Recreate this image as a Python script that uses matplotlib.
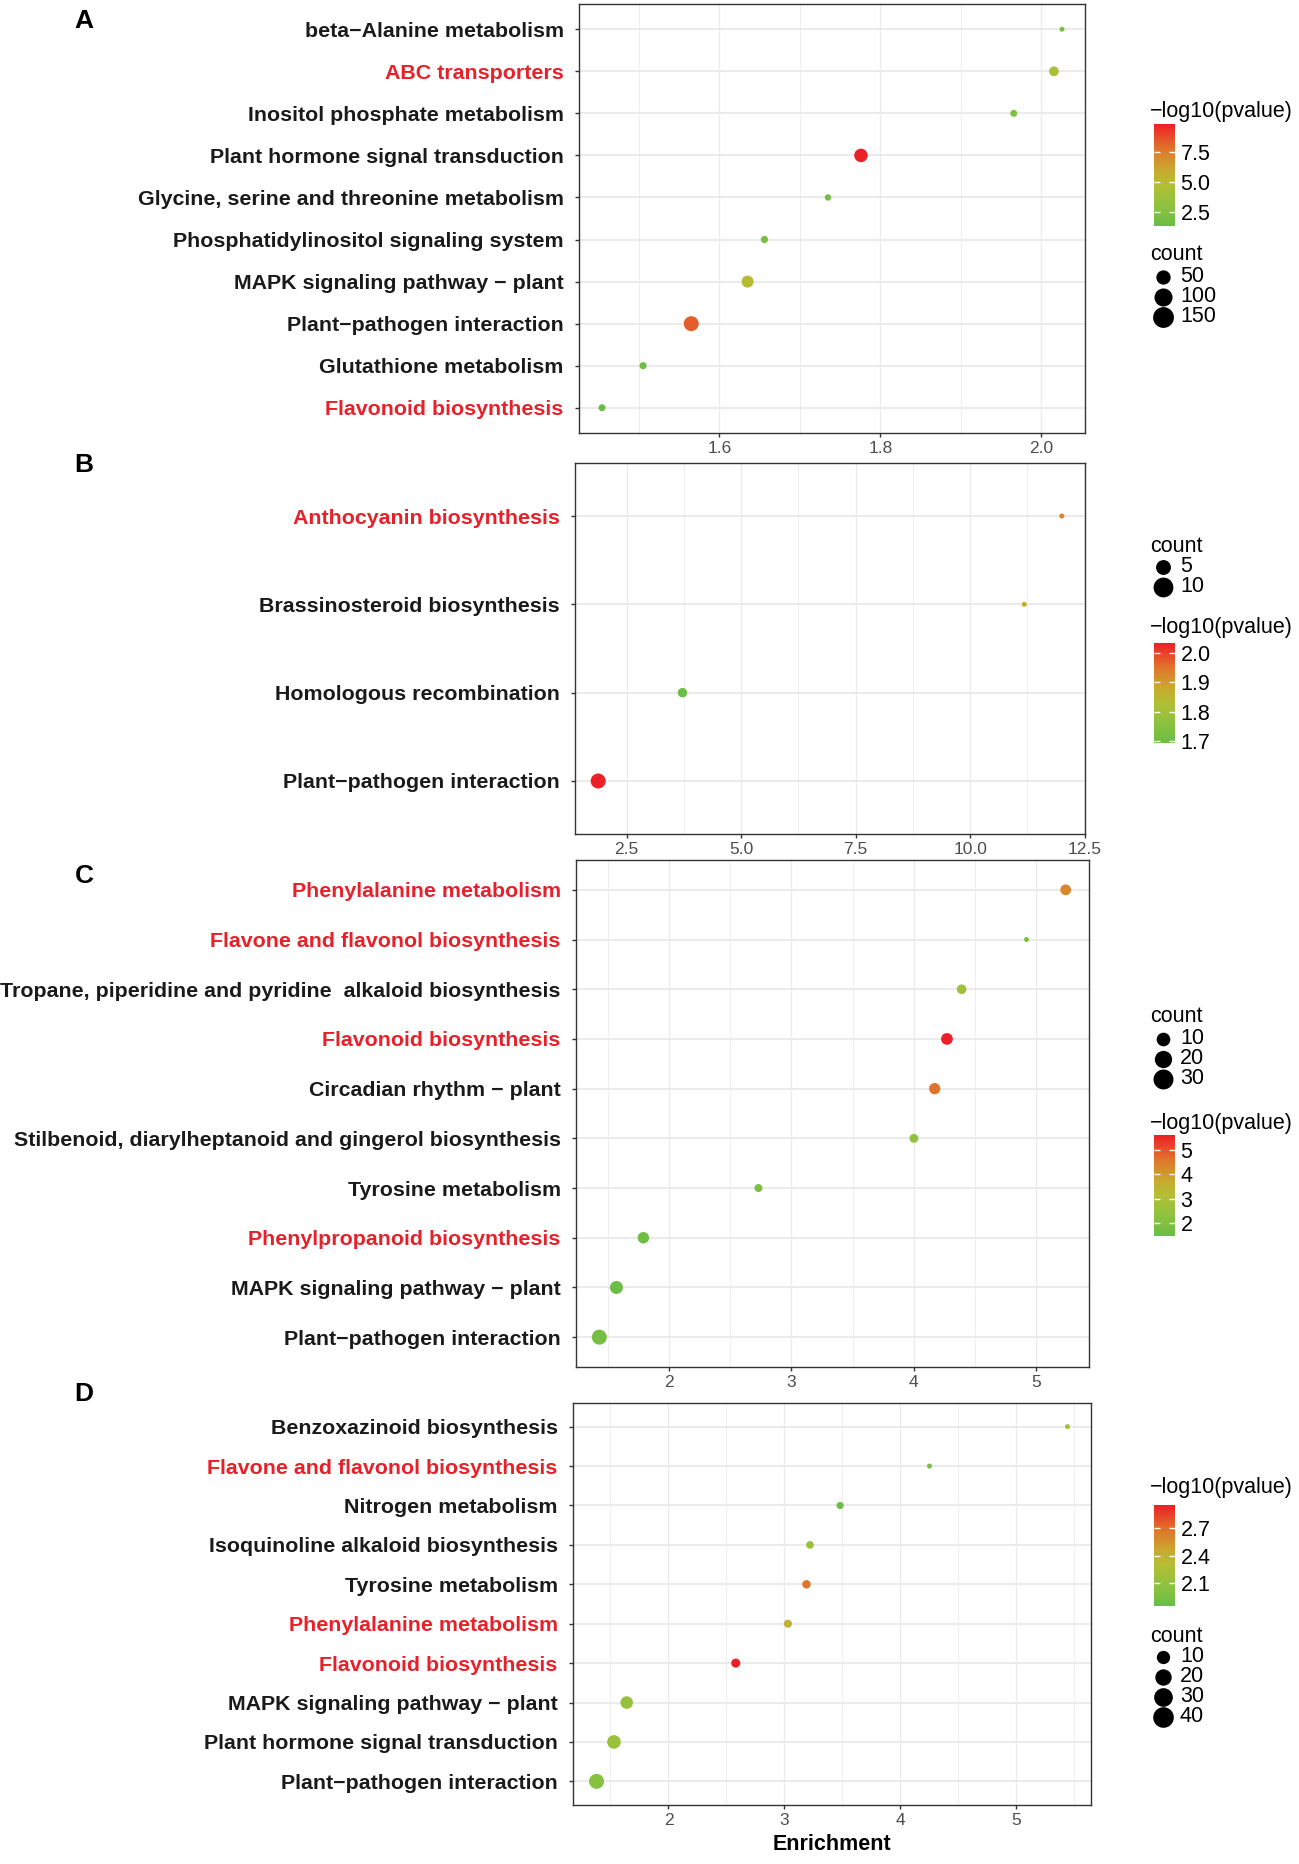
import numpy as np
import matplotlib
matplotlib.use('Agg')
import matplotlib.pyplot as plt
import matplotlib.cm as cm
from matplotlib.colors import LinearSegmentedColormap, Normalize
from matplotlib.lines import Line2D

plt.rcParams['font.family'] = ['Liberation Sans', 'DejaVu Sans']

W, H, DPI = 1299, 1864, 100

# ---- data ----
# panel A
a_terms = ['beta\u2212Alanine metabolism', 'ABC transporters', 'Inositol phosphate metabolism',
           'Plant hormone signal transduction', 'Glycine, serine and threonine metabolism',
           'Phosphatidylinositol signaling system', 'MAPK signaling pathway \u2212 plant',
           'Plant\u2212pathogen interaction', 'Glutathione metabolism', 'Flavonoid biosynthesis']
a_enrich = [2.026, 2.016, 1.966, 1.776, 1.735, 1.656, 1.635, 1.565, 1.505, 1.454]
a_logp = [2.0, 4.3, 2.4, 9.83, 1.8, 2.1, 5.0, 8.3, 1.6, 1.33]
a_count = [12, 45, 18, 118, 15, 19, 85, 160, 19, 18]
a_red = ['ABC transporters', 'Flavonoid biosynthesis']

# panel B
b_terms = ['Anthocyanin biosynthesis', 'Brassinosteroid biosynthesis',
           'Homologous recombination', 'Plant\u2212pathogen interaction']
b_enrich = [12.0, 11.18, 3.72, 1.88]
b_logp = [1.93, 1.88, 1.693, 2.034]
b_count = [2, 2, 4, 12]
b_red = ['Anthocyanin biosynthesis']

# panel C
c_terms = ['Phenylalanine metabolism', 'Flavone and flavonol biosynthesis',
           'Tropane, piperidine and pyridine  alkaloid biosynthesis', 'Flavonoid biosynthesis',
           'Circadian rhythm \u2212 plant', 'Stilbenoid, diarylheptanoid and gingerol biosynthesis',
           'Tyrosine metabolism', 'Phenylpropanoid biosynthesis',
           'MAPK signaling pathway \u2212 plant', 'Plant\u2212pathogen interaction']
c_enrich = [5.24, 4.92, 4.39, 4.27, 4.17, 4.0, 2.73, 1.79, 1.57, 1.43]
c_logp = [4.3, 1.9, 2.7, 5.62, 4.6, 2.4, 1.85, 1.6, 1.47, 1.75]
c_count = [14, 3, 10, 18, 16, 8, 6, 17, 24, 36]
c_red = ['Phenylalanine metabolism', 'Flavone and flavonol biosynthesis',
         'Flavonoid biosynthesis', 'Phenylpropanoid biosynthesis']

# panel D
d_terms = ['Benzoxazinoid biosynthesis', 'Flavone and flavonol biosynthesis', 'Nitrogen metabolism',
           'Isoquinoline alkaloid biosynthesis', 'Tyrosine metabolism', 'Phenylalanine metabolism',
           'Flavonoid biosynthesis', 'MAPK signaling pathway \u2212 plant',
           'Plant hormone signal transduction', 'Plant\u2212pathogen interaction']
d_enrich = [5.44, 4.25, 3.48, 3.22, 3.19, 3.03, 2.58, 1.64, 1.53, 1.38]
d_logp = [2.2, 1.95, 1.85, 2.15, 2.68, 2.38, 2.95, 2.12, 2.15, 2.03]
d_count = [2, 2, 4, 5, 7, 6, 9, 26, 33, 44]
d_red = ['Flavone and flavonol biosynthesis', 'Phenylalanine metabolism', 'Flavonoid biosynthesis']

# green -> red gradient
cmap = LinearSegmentedColormap.from_list('gr', [
    (0.0, '#6ABD45'), (0.2, '#8DC23F'), (0.4, '#B3BF35'),
    (0.55, '#C9A92F'), (0.75, '#E0762B'), (1.0, '#EC2027')])

fig = plt.figure(figsize=(W / DPI, H / DPI), dpi=DPI)


def fx(x):
    return x / W


def fy(y):
    return 1 - y / H


def dot_px(v, lo, hi, dmin=5.0, dmax=15.0):
    v = np.asarray(v, float)
    return dmin + (dmax - dmin) * np.sqrt((v - lo) / (hi - lo))


def draw_panel(box, letter, letter_y, terms, enrich, logp, count, red, xticks, xlabels, minor):
    x0, x1, y0, y1 = box
    ax = fig.add_axes([fx(x0), fy(y1), (x1 - x0) / W, (y1 - y0) / H])
    n = len(terms)
    ypos = np.arange(n)[::-1]
    norm = Normalize(min(logp), max(logp))
    lo, hi = min(count), max(count)
    s = (dot_px(count, lo, hi) * 72 / DPI) ** 2
    ax.scatter(enrich, ypos, s=s, c=logp, cmap=cmap, norm=norm, linewidths=0, zorder=3)
    ax.set_ylim(-0.6, n - 0.4)
    ax.margins(x=0.05)
    ax.set_yticks(ypos)
    ax.set_yticklabels(terms)
    for lab, t in zip(ax.get_yticklabels(), terms):
        lab.set_color('#E8202A' if t in red else '#1A1A1A')
        lab.set_fontweight('bold')
        lab.set_fontsize(15.4)
    ax.set_xticks(xticks)
    ax.set_xticklabels(xlabels)
    ax.set_xticks(minor, minor=True)
    ax.tick_params(which='major', length=3, width=1, color='#333333')
    ax.tick_params(axis='y', pad=8)
    ax.tick_params(axis='x', labelsize=12.5, labelcolor='#4D4D4D', pad=3)
    ax.tick_params(which='minor', length=0)
    ax.grid(axis='y', which='major', color='#EBEBEB', lw=1.5)
    ax.grid(axis='x', which='major', color='#EBEBEB', lw=0.9)
    ax.grid(axis='x', which='minor', color='#EBEBEB', lw=0.6)
    ax.set_axisbelow(True)
    for sp in ax.spines.values():
        sp.set_color('#333333')
        sp.set_linewidth(1.0)
    fig.text(fx(84), fy(letter_y), letter, fontsize=19, fontweight='bold', ha='center', va='center')
    return ax, norm, lo, hi


def draw_colorbar(norm, ytitle, ytop, ybot, ticks, labels):
    fig.text(fx(1150), fy(ytitle), '\u2212log10(pvalue)', fontsize=15.5, ha='left', va='center')
    cax = fig.add_axes([fx(1154), fy(ybot), 21 / W, (ybot - ytop) / H])
    cb = fig.colorbar(cm.ScalarMappable(norm=norm, cmap=cmap), cax=cax)
    cb.outline.set_visible(False)
    cb.set_ticks(ticks)
    cb.set_ticklabels(labels)
    cax.tick_params(direction='in', color='white', length=4, width=1,
                    left=True, right=True, labelsize=15.5, pad=4)


def draw_size_legend(values, lo, hi, ytitle, y_first, step=20):
    fig.text(fx(1150), fy(ytitle), 'count', fontsize=15.5, ha='left', va='center')
    for i, v in enumerate(values):
        yy = y_first + i * step
        d = dot_px(v, lo, hi) * 1.42
        fig.add_artist(Line2D([fx(1163)], [fy(yy)], transform=fig.transFigure, marker='o',
                              ms=d * 72 / DPI, color='black', mec='none', linestyle='none'))
        fig.text(fx(1180), fy(yy), str(v), fontsize=15.5, ha='left', va='center')


# A
ax, norm, lo, hi = draw_panel((579, 1085, 4, 433), 'A', 21, a_terms, a_enrich, a_logp, a_count, a_red,
                              [1.6, 1.8, 2.0], ['1.6', '1.8', '2.0'], [1.5, 1.7, 1.9])
draw_colorbar(norm, 112, 124, 226, [2.5, 5.0, 7.5], ['2.5', '5.0', '7.5'])
draw_size_legend([50, 100, 150], lo, hi, 255, 277)

# B
ax, norm, lo, hi = draw_panel((575, 1085, 463, 834), 'B', 465, b_terms, b_enrich, b_logp, b_count, b_red,
                              [2.5, 5.0, 7.5, 10.0, 12.5], ['2.5', '5.0', '7.5', '10.0', '12.5'],
                              [3.75, 6.25, 8.75, 11.25])
draw_size_legend([5, 10], lo, hi, 547, 567)
draw_colorbar(norm, 627, 643, 743, [1.7, 1.8, 1.9, 2.0], ['1.7', '1.8', '1.9', '2.0'])

# C
ax, norm, lo, hi = draw_panel((576, 1089, 860, 1367), 'C', 876, c_terms, c_enrich, c_logp, c_count, c_red,
                              [2, 3, 4, 5], ['2', '3', '4', '5'], [1.5, 2.5, 3.5, 4.5])
draw_size_legend([10, 20, 30], lo, hi, 1017, 1039)
draw_colorbar(norm, 1123, 1135, 1236, [2, 3, 4, 5], ['2', '3', '4', '5'])

# D
ax, norm, lo, hi = draw_panel((573, 1091, 1403, 1805), 'D', 1394, d_terms, d_enrich, d_logp, d_count, d_red,
                              [2, 3, 4, 5], ['2', '3', '4', '5'], [1.5, 2.5, 3.5, 4.5, 5.5])
ax.set_xlabel('Enrichment', fontsize=15.5, fontweight='bold', labelpad=4)
draw_colorbar(norm, 1487, 1505, 1606, [2.1, 2.4, 2.7], ['2.1', '2.4', '2.7'])
draw_size_legend([10, 20, 30, 40], lo, hi, 1637, 1657)

fig.savefig('out.png', dpi=DPI, facecolor='white')
